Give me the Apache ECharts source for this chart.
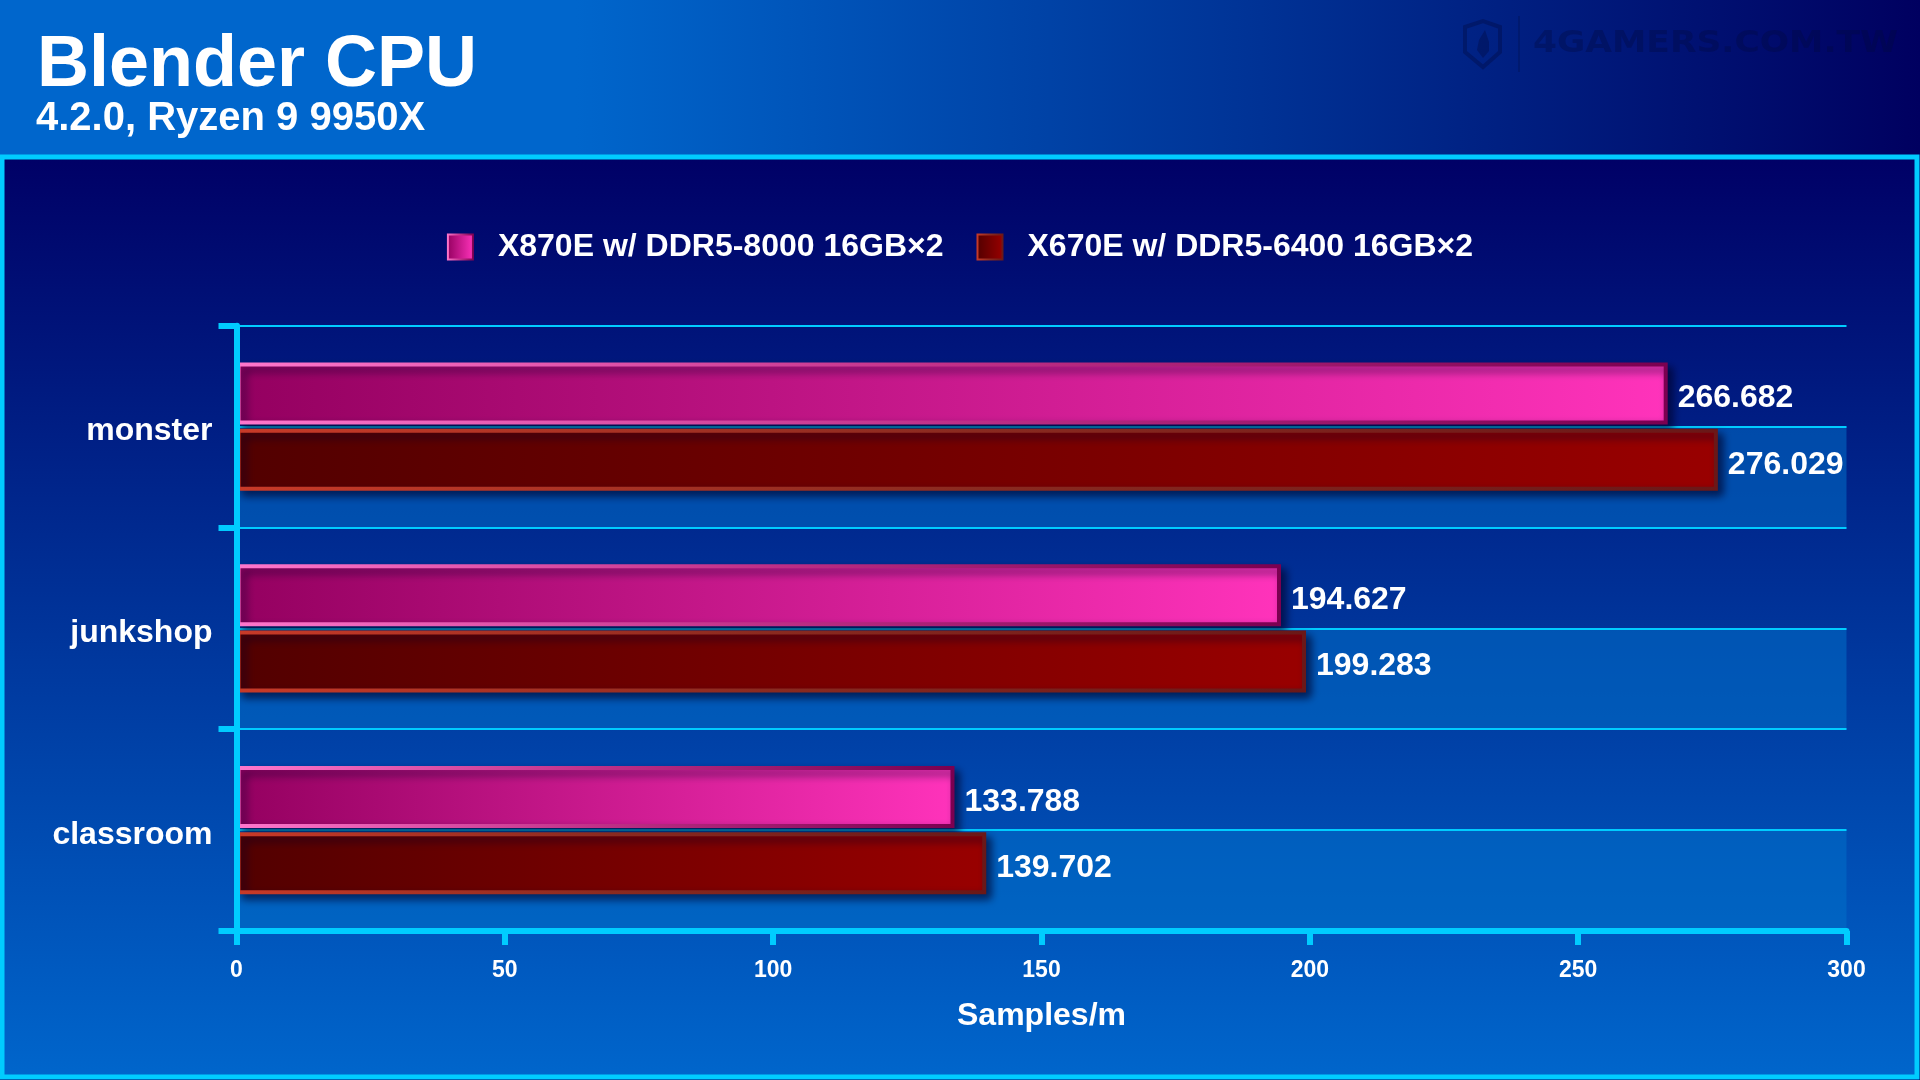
<!DOCTYPE html>
<html>
<head>
<meta charset="utf-8">
<title>Blender CPU</title>
<script src="https://cdn.jsdelivr.net/npm/echarts@6/dist/echarts.min.js"></script>
<style>
  html, body { margin: 0; padding: 0; background: #000066; }
  #chart { width: 1920px; height: 1080px; }
</style>
</head>
<body>
<div id="chart"></div>
<script>
// Chart data
const categories = ['monster', 'junkshop', 'classroom']
const seriesNames = ['X870E w/ DDR5-8000 16GB×2', 'X670E w/ DDR5-6400 16GB×2']
const x870eValues = [266.682, 194.627, 133.788]
const x670eValues = [276.029, 199.283, 139.702]
const xTicks = [0, 50, 100, 150, 200, 250, 300]

const FONT = '"Liberation Sans", Arial, sans-serif'
const CYAN = '#00ccff'

const grad = (stops, x2 = 1, y2 = 0) =>
  new echarts.graphic.LinearGradient(0, 0, x2, y2, stops.map((c, i) =>
    Array.isArray(c) ? { offset: c[0], color: c[1] } : { offset: i / (stops.length - 1), color: c }))

const pinkStyle = {
  color: grad(['#940060', '#ff33bb']),
  borderColor: grad(['#ff77cc', '#c03088', '#7a0050']),
  borderWidth: 4,
  shadowColor: 'rgba(0, 0, 40, 0.65)',
  shadowBlur: 8,
  shadowOffsetX: 5,
  shadowOffsetY: 5
}

const redStyle = {
  color: grad(['#520000', '#990000']),
  borderColor: grad(['#c83a28', '#8a2a20', '#6a1818']),
  borderWidth: 4,
  shadowColor: 'rgba(0, 0, 40, 0.65)',
  shadowBlur: 8,
  shadowOffsetX: 5,
  shadowOffsetY: 5
}

const barLabel = {
  show: true,
  position: 'right',
  distance: 10,
  offset: [0, 5],
  color: '#fff',
  fontFamily: FONT,
  fontWeight: 'bold',
  fontSize: 32,
  formatter: (p) => p.value.toFixed(3)
}

const chart = echarts.init(document.getElementById('chart'), null, { renderer: 'canvas' })

const option = {
  animation: false,
  backgroundColor: '#000066',
  textStyle: { fontFamily: FONT },
  graphic: [
    // header band
    {
      type: 'rect', z: -10, silent: true,
      shape: { x: 0, y: 0, width: 1920, height: 158 },
      style: { fill: grad([[0, '#0066cc'], [0.3, '#0066cc'], [1, '#000060']]) }
    },
    // chart panel with cyan frame
    {
      type: 'rect', z: -10, silent: true,
      shape: { x: 2, y: 157, width: 1915, height: 920 },
      style: {
        fill: grad(['#000066', '#0066cc'], 0, 1),
        stroke: CYAN,
        lineWidth: 5
      }
    },
    {
      type: 'text', x: 37, y: 66, silent: true,
      style: { text: 'Blender CPU', fill: '#fff', font: 'bold 72px ' + FONT, verticalAlign: 'middle' }
    },
    {
      type: 'text', x: 36, y: 119, silent: true,
      style: { text: '4.2.0, Ryzen 9 9950X', fill: '#fff', font: 'bold 40px ' + FONT, verticalAlign: 'middle' }
    },
    // watermark
    {
      type: 'polygon', silent: true,
      shape: { points: [[1465, 27], [1483, 21], [1500, 27], [1500, 52], [1483, 67], [1465, 52]] },
      style: { fill: 'none', stroke: 'rgba(0, 10, 60, 0.35)', lineWidth: 4 }
    },
    {
      type: 'polygon', silent: true,
      shape: { points: [[1485, 30], [1479, 40], [1477, 50], [1483, 58], [1489, 51], [1489, 42]] },
      style: { fill: 'rgba(0, 10, 60, 0.35)' }
    },
    {
      type: 'rect', silent: true,
      shape: { x: 1518, y: 16, width: 2, height: 56 },
      style: { fill: 'rgba(0, 10, 60, 0.25)' }
    },
    {
      type: 'text', x: 1533, y: 44, silent: true, scaleX: 1.15,
      style: { text: '4GAMERS.COM.TW', fill: 'rgba(0, 10, 60, 0.33)', font: 'bold 30px "DejaVu Sans", sans-serif', verticalAlign: 'middle' }
    }
  ],
  legend: {
    data: seriesNames,
    top: 226,
    left: 'center',
    itemWidth: 25,
    itemHeight: 25,
    itemGap: 33,
    icon: 'rect',
    textStyle: {
      color: '#fff',
      fontFamily: FONT,
      fontWeight: 'bold',
      fontSize: 32,
      padding: [0, 0, 0, 20]
    }
  },
  grid: {
    left: 236.5,
    right: 73.5,
    top: 325.7,
    bottom: 149,
    containLabel: false
  },
  xAxis: {
    type: 'value',
    position: 'bottom',
    min: xTicks[0],
    max: xTicks[xTicks.length - 1],
    interval: xTicks[1] - xTicks[0],
    z: 10,
    name: 'Samples/m',
    nameLocation: 'middle',
    nameGap: 69,
    nameTextStyle: { color: '#fff', fontFamily: FONT, fontWeight: 'bold', fontSize: 32 },
    axisLine: { show: true, onZero: false, lineStyle: { color: CYAN, width: 6 } },
    axisTick: { show: true, length: 14, lineStyle: { color: CYAN, width: 6 } },
    axisLabel: { color: '#fff', fontFamily: FONT, fontWeight: 'bold', fontSize: 23, margin: 28 },
    splitLine: { show: false }
  },
  yAxis: [
    {
      type: 'category',
      data: categories,
      inverse: true,
      z: 10,
      axisLine: { show: true, lineStyle: { color: CYAN, width: 6 } },
      axisTick: { show: true, length: 18, lineStyle: { color: CYAN, width: 6 } },
      axisLabel: {
        color: '#fff', fontFamily: FONT, fontWeight: 'bold', fontSize: 32, margin: 24,
        verticalAlign: 'top', lineHeight: 10
      },
      splitLine: { show: false }
    },
    {
      // half-row gridlines and the lighter lower half of each row
      type: 'value',
      min: 0,
      max: categories.length * 2,
      interval: 1,
      inverse: true,
      position: 'left',
      z: 0,
      axisLine: { show: false, onZero: false },
      axisTick: { show: false },
      axisLabel: { show: false },
      splitLine: { show: true, lineStyle: { color: CYAN, width: 2 } },
      splitArea: { show: true, areaStyle: { color: ['rgba(0,0,0,0)', 'rgba(0, 112, 200, 0.55)'] } }
    }
  ],
  series: [
    {
      name: seriesNames[0],
      type: 'bar',
      yAxisIndex: 0,
      data: x870eValues,
      barWidth: 62,
      barGap: '7%',
      itemStyle: pinkStyle,
      label: barLabel
    },
    {
      name: seriesNames[1],
      type: 'bar',
      yAxisIndex: 0,
      data: x670eValues,
      barWidth: 62,
      barGap: '7%',
      itemStyle: redStyle,
      label: barLabel
    }
  ]
}

chart.setOption(option)
</script>
</body>
</html>
